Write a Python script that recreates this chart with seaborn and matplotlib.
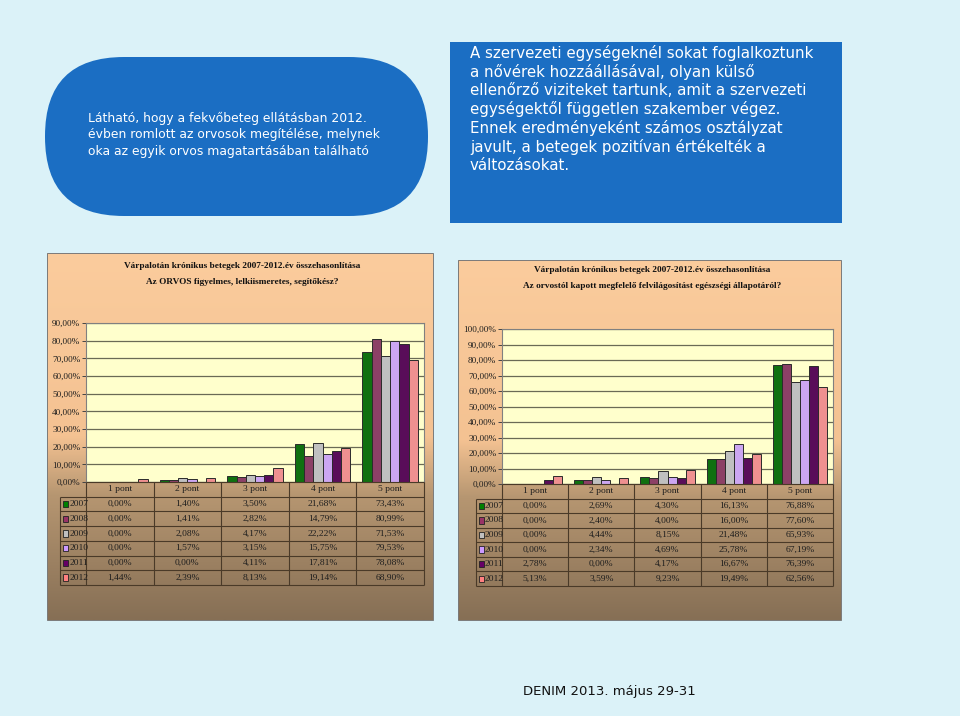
import numpy as np
import pandas as pd
import matplotlib
matplotlib.use("Agg")
import matplotlib.pyplot as plt
import seaborn as sns
from matplotlib.patches import FancyBboxPatch, Rectangle
from matplotlib.ticker import FuncFormatter

# Adatok (táblázatból leolvasva)
categories = ['1 pont', '2 pont', '3 pont', '4 pont', '5 pont']
years = ['2007', '2008', '2009', '2010', '2011', '2012']
year_colors = ['#008000', '#993366', '#c0c0c0', '#cc99ff', '#660066', '#ff8080']

orvos_2007 = [0.00, 1.40, 3.50, 21.68, 73.43]
orvos_2008 = [0.00, 1.41, 2.82, 14.79, 80.99]
orvos_2009 = [0.00, 2.08, 4.17, 22.22, 71.53]
orvos_2010 = [0.00, 1.57, 3.15, 15.75, 79.53]
orvos_2011 = [0.00, 0.00, 4.11, 17.81, 78.08]
orvos_2012 = [1.44, 2.39, 8.13, 19.14, 68.90]

info_2007 = [0.00, 2.69, 4.30, 16.13, 76.88]
info_2008 = [0.00, 2.40, 4.00, 16.00, 77.60]
info_2009 = [0.00, 4.44, 8.15, 21.48, 65.93]
info_2010 = [0.00, 2.34, 4.69, 25.78, 67.19]
info_2011 = [2.78, 0.00, 4.17, 16.67, 76.39]
info_2012 = [5.13, 3.59, 9.23, 19.49, 62.56]

orvos = [orvos_2007, orvos_2008, orvos_2009, orvos_2010, orvos_2011, orvos_2012]
info = [info_2007, info_2008, info_2009, info_2010, info_2011, info_2012]

title_left = ['Várpalotán krónikus betegek 2007-2012.év összehasonlítása',
              'Az ORVOS figyelmes, lelkiismeretes, segítőkész?']
title_right = ['Várpalotán krónikus betegek 2007-2012.év összehasonlítása',
               'Az orvostól kapott megfelelő felvilágosítást egészségi állapotáról?']
text_left = ('Látható, hogy a fekvőbeteg ellátásban 2012.\n'
             'évben romlott az orvosok megítélése, melynek\n'
             'oka az egyik orvos magatartásában található')
text_right = ('A szervezeti egységeknél sokat foglalkoztunk\n'
              'a nővérek hozzáállásával, olyan külső\n'
              'ellenőrző viziteket tartunk, amit a szervezeti\n'
              'egységektől független szakember végez.\n'
              'Ennek eredményeként számos osztályzat\n'
              'javult, a betegek pozitívan értékelték a\n'
              'változásokat.')
footer = 'DENIM 2013. május 29-31'

sns.set_theme(style="white")
plt.rcParams['font.family'] = ['DejaVu Sans']

W, H = 960, 716
BG = '#dbf2f8'
BLUE = '#1b6ec3'
SERIF = 'Liberation Serif'
TXT = '#1e1e1e'


def px_axes(fig, x0, y0, x1, y1):
    return fig.add_axes([x0 / W, 1 - y1 / H, (x1 - x0) / W, (y1 - y0) / H])


def pct(v):
    return f'{v:.2f}'.replace('.', ',') + '%'


def gradient_panel(ax, x0, y0, x1, y1):
    stops = np.array([0.0, 0.5, 0.66, 1.0])
    cols = np.array([[251, 204, 157], [244, 194, 146], [182, 150, 113], [134, 111, 85]]) / 255
    t = np.linspace(0, 1, 300)
    img = np.stack([np.interp(t, stops, cols[:, k]) for k in range(3)], axis=-1)[:, None, :]
    ax.imshow(img, extent=(x0, x1, y1, y0), aspect='auto', zorder=1)
    ax.add_patch(Rectangle((x0, y0), x1 - x0, y1 - y0, fill=False, ec='#7a7a7a', lw=0.7, zorder=2))


def draw_chart(fig, values, title, plot_box, table_left, table_bottom, ymax, title_xy):
    px0, py0, px1, py1 = plot_box
    # címsor, két sor
    for k, line in enumerate(title):
        fig.text(title_xy[0] / W, 1 - (title_xy[1] + 16.5 * k) / H, line, ha='center', va='center',
                 family=SERIF, fontweight='bold', fontsize=6.7, color='#111111')

    rows = []
    for yr, vals in zip(years, values):
        for cat, v in zip(categories, vals):
            rows.append({'kat': cat, 'ev': yr, 'ertek': v})
    df = pd.DataFrame(rows)

    ax = px_axes(fig, px0, py0, px1, py1)
    ax.set_facecolor('#ffffcc')
    sns.barplot(data=df, x='kat', y='ertek', hue='ev', palette=year_colors, width=0.82,
                edgecolor='#2b2b2b', linewidth=0.7, legend=False, ax=ax, zorder=3)
    ax.set_xlim(-0.5, 4.5)
    ax.set_ylim(0, ymax)
    ax.set_yticks(np.arange(0, ymax + 1, 10))
    ax.yaxis.set_major_formatter(FuncFormatter(lambda v, p: pct(v)))
    ax.grid(axis='y', color='#6a6a55', lw=0.9, zorder=0)
    ax.set_axisbelow(True)
    ax.set_xticks([])
    ax.set_xlabel('')
    ax.set_ylabel('')
    ax.tick_params(axis='y', length=3, width=0.7, color='#444444', pad=1, labelsize=6.6,
                   labelcolor=TXT, left=True)
    for lab in ax.get_yticklabels():
        lab.set_family(SERIF)
    for s in ax.spines.values():
        s.set_color('#808080')
        s.set_linewidth(0.8)

    # adattábla
    ta = px_axes(fig, px0, py1, px1, table_bottom)
    ta.set_xlim(-0.5, 4.5)
    ta.set_ylim(7, 0)
    ta.axis('off')
    catw = (px1 - px0) / 5
    xl = -0.5 - (px0 - table_left) / catw
    lc = '#4a3a28'
    ta.hlines(0, -0.5, 4.5, color=lc, lw=0.8, clip_on=False)
    for r in range(1, 8):
        ta.hlines(r, xl, 4.5, color=lc, lw=0.8, clip_on=False)
    for c in range(6):
        ta.vlines(c - 0.5, 0, 7, color=lc, lw=0.8, clip_on=False)
    ta.vlines(xl, 1, 7, color=lc, lw=0.8, clip_on=False)
    for i, cat in enumerate(categories):
        ta.text(i, 0.5, cat, ha='center', va='center', family=SERIF, fontsize=6.8, color=TXT)
    sq = 0.07
    for r, (yr, col, vals) in enumerate(zip(years, year_colors, values), start=1):
        ta.add_patch(Rectangle((xl + 0.05, r + 0.5 - 0.22), sq, 0.44, fc=col, ec='#222222',
                               lw=0.6, clip_on=False))
        ta.text(xl + 0.05 + sq + 0.015, r + 0.5, yr, ha='left', va='center', family=SERIF,
                fontsize=6.8, color=TXT, clip_on=False)
        for i, v in enumerate(vals):
            ta.text(i, r + 0.5, pct(v), ha='center', va='center', family=SERIF,
                    fontsize=6.8, color=TXT)
    return ax


fig = plt.figure(figsize=(W / 100, H / 100), dpi=100, facecolor=BG)
bg = fig.add_axes([0, 0, 1, 1])
bg.set_xlim(0, W)
bg.set_ylim(H, 0)
bg.axis('off')

# kék szövegdobozok
bg.add_patch(FancyBboxPatch((45, 57), 383, 159, boxstyle='round,pad=0,rounding_size=79',
                            fc=BLUE, ec='none'))
bg.text(88, 112, text_left, ha='left', va='top', color='white', fontsize=8.9, linespacing=1.33)
bg.add_patch(Rectangle((450, 42), 392, 181, fc=BLUE, ec='none'))
bg.text(470, 45, text_right, ha='left', va='top', color='white', fontsize=10.8, linespacing=1.24)

# diagram panelek
gradient_panel(bg, 47, 253, 433, 620)
gradient_panel(bg, 458, 260, 841, 620)

draw_chart(fig, orvos, title_left, (86, 323, 424, 482), 60, 585, 90, (242, 266))
draw_chart(fig, info, title_right, (502, 329, 833, 484), 476, 586, 100, (652, 270))

bg.text(609, 691, footer, ha='center', va='center', color='#111111', fontsize=9.5)

fig.savefig('out.png', dpi=100, facecolor=BG)
